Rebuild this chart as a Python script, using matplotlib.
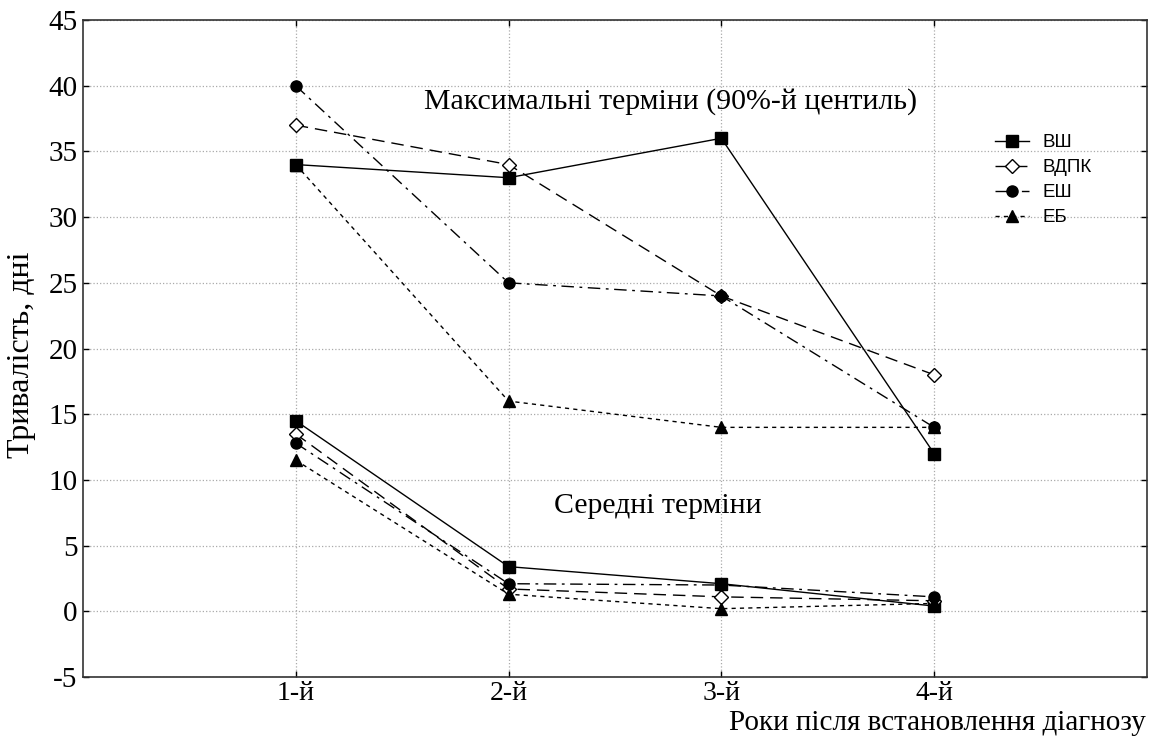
import matplotlib
matplotlib.use("Agg")
import matplotlib.pyplot as plt

plt.rcParams["axes.unicode_minus"] = False

years = [1, 2, 3, 4]
year_labels = ["1-й", "2-й", "3-й", "4-й"]
series_names = ["ВШ", "ВДПК", "ЕШ", "ЕБ"]

# maximum terms (90th percentile)
max_vsh = [34, 33, 36, 12]
max_vdpk = [37, 34, 24, 18]
max_esh = [40, 25, 24, 14]
max_eb = [34, 16, 14, 14]

# mean terms
mean_vsh = [14.5, 3.4, 2.1, 0.4]
mean_vdpk = [13.5, 1.7, 1.1, 0.8]
mean_esh = [12.8, 2.1, 2.0, 1.1]
mean_eb = [11.5, 1.3, 0.2, 0.6]

styles = {
    "ВШ": dict(linestyle="-", marker="s", markersize=9, markerfacecolor="black"),
    "ВДПК": dict(linestyle=(0, (9, 5)), marker="D", markersize=7, markerfacecolor="white"),
    "ЕШ": dict(linestyle=(0, (9, 4, 2, 4)), marker="o", markersize=8, markerfacecolor="black"),
    "ЕБ": dict(linestyle=(0, (3, 3)), marker="^", markersize=8, markerfacecolor="black"),
}

serif = ["Liberation Serif", "DejaVu Serif"]
sans = ["Liberation Sans", "DejaVu Sans"]

fig = plt.figure(figsize=(11.49, 7.42), dpi=100, facecolor="white")
ax = fig.add_axes([0.0722, 0.0876, 0.926, 0.8854])

max_data = {"ВШ": max_vsh, "ВДПК": max_vdpk, "ЕШ": max_esh, "ЕБ": max_eb}
mean_data = {"ВШ": mean_vsh, "ВДПК": mean_vdpk, "ЕШ": mean_esh, "ЕБ": mean_eb}

handles = []
for name in series_names:
    st = styles[name]
    h, = ax.plot(years, max_data[name], color="black", linewidth=1.0,
                 markeredgecolor="black", markeredgewidth=1.0, label=name, **st)
    ax.plot(years, mean_data[name], color="black", linewidth=1.0,
            markeredgecolor="black", markeredgewidth=1.0, **st)
    handles.append(h)

ax.set_xlim(0, 5)
ax.set_ylim(-5, 45)
ax.set_xticks(years)
ax.set_xticklabels(year_labels)
ax.set_yticks(range(-5, 46, 5))
ax.grid(True, linestyle=":", color="#aaaaaa", linewidth=0.9)
ax.tick_params(direction="in", top=True, right=True, length=4, width=1.0, labelsize=21)
ax.tick_params(axis="x", pad=3, labelsize=20)
ax.tick_params(axis="y", pad=4)
for lbl in ax.get_xticklabels() + ax.get_yticklabels():
    lbl.set_family(serif)
for spine in ax.spines.values():
    spine.set_linewidth(1.2)
    spine.set_color("#333333")

ax.text(2.76, 38.8, "Максимальні терміни (90%-й центиль)", ha="center", va="center",
        fontsize=21.5, family=serif)
ax.text(2.70, 8.0, "Середні терміни", ha="center", va="center",
        fontsize=21.5, family=serif)

fig.text(0.019, 0.522, "Тривалість, дні", rotation=90, ha="center", va="center",
         fontsize=23, family=serif)
fig.text(0.997, 0.025, "Роки після встановлення діагнозу", ha="right", va="center",
         fontsize=21, family=serif)

leg = ax.legend(handles=handles, loc="upper left", bbox_to_anchor=(0.8416, 0.852),
                frameon=False, handlelength=1.8, handletextpad=0.7, labelspacing=0.42,
                prop={"family": sans, "size": 13.5})

fig.savefig("out.png", dpi=100, facecolor="white")
